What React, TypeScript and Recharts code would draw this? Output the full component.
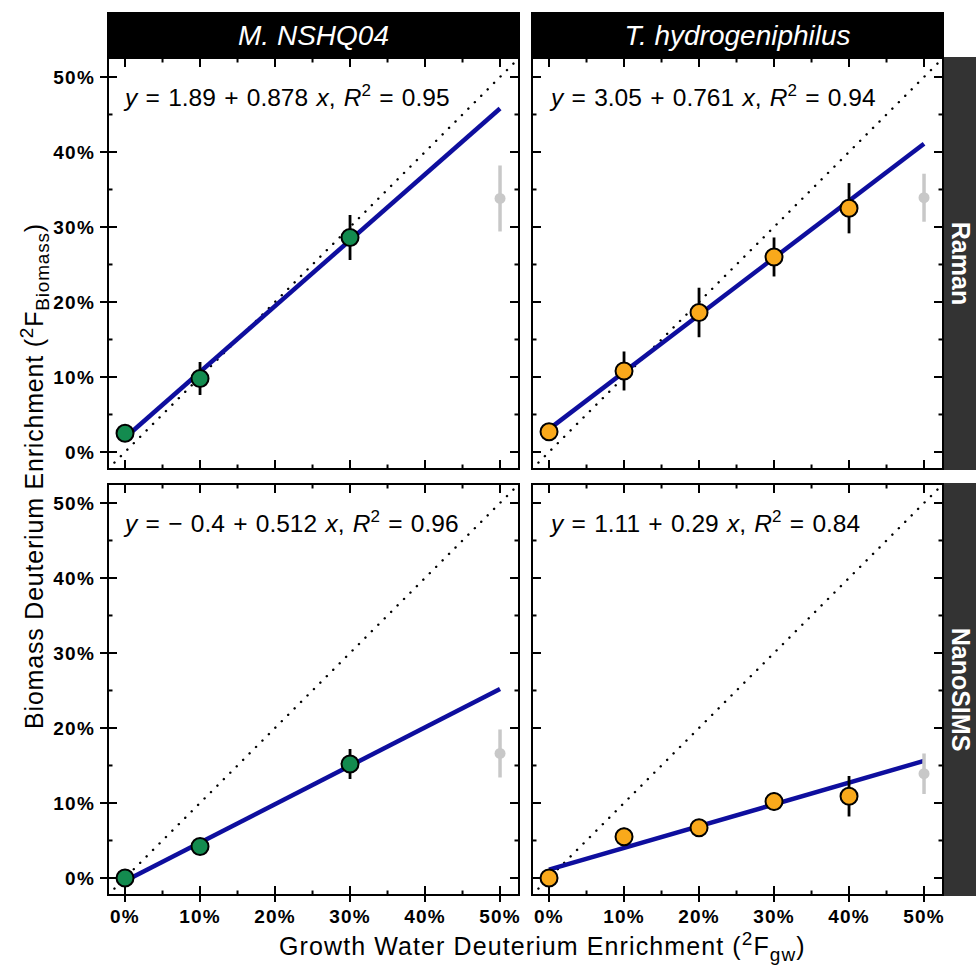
import React from 'react'
import { ComposedChart, Scatter, Line, XAxis, YAxis, ErrorBar } from 'recharts'

// shared axis range (both axes, in % enrichment)
const domainLo = -2.27
const domainHi = 52.53
const tickValues = [0, 5, 10, 15, 20, 25, 30, 35, 40, 45, 50]
const fitX = [0, 50]
const refX = 50

// M. NSHQ04 / Raman
const mRamanX = [0, 10, 30]
const mRamanY = [2.5, 9.8, 28.6]
const mRamanErr = [0.4, 2.2, 3.0]
const mRamanRefY = 33.8
const mRamanRefErr = 4.4
const mRamanFit = [1.89, 45.79]

// T. hydrogeniphilus / Raman
const tRamanX = [0, 10, 20, 30, 40]
const tRamanY = [2.7, 10.8, 18.6, 26.0, 32.5]
const tRamanErr = [0.4, 2.6, 3.3, 2.6, 3.35]
const tRamanRefY = 33.9
const tRamanRefErr = 3.2
const tRamanFit = [3.05, 41.1]

// M. NSHQ04 / NanoSIMS
const mSimsX = [0, 10, 30]
const mSimsY = [0.0, 4.2, 15.2]
const mSimsErr = [0.3, 0.6, 2.0]
const mSimsRefY = 16.6
const mSimsRefErr = 3.2
const mSimsFit = [-0.4, 25.2]

// T. hydrogeniphilus / NanoSIMS
const tSimsX = [0, 10, 20, 30, 40]
const tSimsY = [0.0, 5.5, 6.7, 10.2, 10.9]
const tSimsErr = [0.4, 1.2, 0.5, 1.2, 2.7]
const tSimsRefY = 13.9
const tSimsRefErr = 2.7
const tSimsFit = [1.11, 15.61]

const eqIntercept = ['1.89', '3.05', '\u2212 0.4', '1.11']
const eqSlope = ['0.878', '0.761', '0.512', '0.29']
const eqR2 = ['0.95', '0.94', '0.96', '0.84']

const speciesLabels = ['M. NSHQ04', 'T. hydrogeniphilus']
const methodLabels = ['Raman', 'NanoSIMS']

const FONT = '"Liberation Sans", Arial, Helvetica, sans-serif'
const GREEN = '#138B4F'
const ORANGE = '#F9A91B'
const NAVY = '#0E0E9E'
const GREY = '#C8C8C8'

// layout
const PW = 411
const PH = 411
const colLeft = [108, 532]
const rowTop = [58, 484]
const L = 60
const R = 6
const T = 6
const B = 40

const makeXTick = (outer: boolean) => (p: any) => {
  const x = p.x
  const v = p.payload.value
  const major = v % 10 === 0
  const yb = T + PH
  const len = major ? 9 : 4.5
  return (
    <g>
      <line x1={x} x2={x} y1={yb} y2={yb - len} stroke="#000" strokeWidth={2} />
      <line x1={x} x2={x} y1={T} y2={T + len} stroke="#000" strokeWidth={2} />
      {outer && major && <line x1={x} x2={x} y1={yb} y2={yb + 7} stroke="#000" strokeWidth={2} />}
      {outer && major && (
        <text x={x} y={yb + 28} textAnchor="middle" fontFamily={FONT} fontWeight="bold" fontSize={19} letterSpacing={1.2} fill="#000">
          {v}%
        </text>
      )}
    </g>
  )
}

const makeYTick = (outer: boolean) => (p: any) => {
  const y = p.y
  const v = p.payload.value
  const major = v % 10 === 0
  const xl = L
  const xr = L + PW
  const len = major ? 9 : 4.5
  return (
    <g>
      <line x1={xl} x2={xl + len} y1={y} y2={y} stroke="#000" strokeWidth={2} />
      <line x1={xr} x2={xr - len} y1={y} y2={y} stroke="#000" strokeWidth={2} />
      {outer && major && <line x1={xl} x2={xl - 8} y1={y} y2={y} stroke="#000" strokeWidth={2} />}
      {outer && major && (
        <text x={xl - 13} y={y + 7} textAnchor="end" fontFamily={FONT} fontWeight="bold" fontSize={19} letterSpacing={1.2} fill="#000">
          {v}%
        </text>
      )}
    </g>
  )
}

interface PanelProps {
  xs: number[]
  ys: number[]
  errs: number[]
  refY: number
  refErr: number
  fit: number[]
  color: string
  col: number
  row: number
}

const Panel = ({ xs, ys, errs, refY, refErr, fit, color, col, row }: PanelProps) => {
  const pts = xs.map((x, i) => ({ x, y: ys[i], e: errs[i] }))
  const refPt = [{ x: refX, y: refY, e: refErr }]
  const fitData = fitX.map((x, i) => ({ x, y: fit[i] }))
  const idData = [
    { x: domainLo, y: domainLo },
    { x: domainHi, y: domainHi },
  ]
  return (
    <div style={{ position: 'absolute', left: colLeft[col] - L, top: rowTop[row] - T }}>
      <ComposedChart width={L + PW + R} height={T + PH + B} margin={{ top: T, right: R, left: 0, bottom: 0 }}>
        <XAxis
          type="number"
          dataKey="x"
          domain={[domainLo, domainHi]}
          allowDataOverflow
          ticks={tickValues}
          interval={0}
          tickLine={false}
          axisLine={false}
          tickSize={0}
          tickMargin={0}
          height={B}
          tick={makeXTick(row === 1)}
        />
        <YAxis
          type="number"
          dataKey="y"
          domain={[domainLo, domainHi]}
          allowDataOverflow
          ticks={tickValues}
          interval={0}
          tickLine={false}
          axisLine={false}
          tickSize={0}
          tickMargin={0}
          width={L}
          tick={makeYTick(col === 0)}
        />
        <Line data={idData} dataKey="y" stroke="#000" strokeWidth={2.4} strokeDasharray="0.1 9" strokeLinecap="round" dot={false} isAnimationActive={false} />
        <Line data={fitData} dataKey="y" stroke={NAVY} strokeWidth={4.5} dot={false} isAnimationActive={false} />
        <Scatter
          data={refPt}
          dataKey="y"
          isAnimationActive={false}
          shape={(p: any) => <circle cx={p.cx} cy={p.cy} r={5.5} fill={GREY} />}
        >
          <ErrorBar dataKey="e" direction="y" width={0} stroke={GREY} strokeWidth={3.5} />
        </Scatter>
        <Scatter
          data={pts}
          dataKey="y"
          isAnimationActive={false}
          shape={(p: any) => <circle cx={p.cx} cy={p.cy} r={8.5} fill={color} stroke="#000" strokeWidth={2} />}
        >
          <ErrorBar dataKey="e" direction="y" width={0} stroke="#000" strokeWidth={2.8} />
        </Scatter>
      </ComposedChart>
    </div>
  )
}

const Equation = ({ i, x, y }: { i: number; x: number; y: number }) => (
  <text x={x} y={y} fontFamily={FONT} fontSize={24.5} fill="#000" style={{ whiteSpace: 'pre', wordSpacing: 1.5 }}>
    <tspan fontStyle="italic">y</tspan>
    <tspan>{` = ${eqIntercept[i]} + ${eqSlope[i]} `}</tspan>
    <tspan fontStyle="italic">x</tspan>
    <tspan>{', '}</tspan>
    <tspan fontStyle="italic">R</tspan>
    <tspan dy={-10} fontSize={17}>2</tspan>
    <tspan dy={10}>{` = ${eqR2[i]}`}</tspan>
  </text>
)

const Overlay = () => (
  <svg width={976} height={965} style={{ position: 'absolute', left: 0, top: 0, pointerEvents: 'none' }}>
    {colLeft.map((cx, c) => (
      <g key={`strip-${c}`}>
        <rect x={cx - 1} y={12} width={PW + 2} height={46} fill="#000" />
        <text x={cx + PW / 2} y={45} textAnchor="middle" fontFamily={FONT} fontStyle="italic" fontSize={28} fill="#fff">
          {speciesLabels[c]}
        </text>
      </g>
    ))}
    {rowTop.map((ry, r) => (
      <g key={`side-${r}`}>
        <rect x={943} y={ry - 1} width={40} height={PH + 2} fill="#333333" />
        <text
          transform={`translate(961, ${ry + PH / 2}) rotate(90)`}
          textAnchor="middle"
          dominantBaseline="central"
          fontFamily={FONT}
          fontWeight="bold"
          fontSize={25}
          fill="#fff"
        >
          {methodLabels[r]}
        </text>
      </g>
    ))}
    {rowTop.map((ry) =>
      colLeft.map((cx) => (
        <rect key={`f-${cx}-${ry}`} x={cx} y={ry} width={PW} height={PH} fill="none" stroke="#000" strokeWidth={2} />
      ))
    )}
    <Equation i={0} x={125} y={106} />
    <Equation i={1} x={551} y={106} />
    <Equation i={2} x={125} y={532} />
    <Equation i={3} x={551} y={532} />
    <text x={279} y={955} fontFamily={FONT} fontSize={25} letterSpacing={1.1} fill="#000" style={{ whiteSpace: 'pre' }}>
      {'Growth Water Deuterium Enrichment ('}
      <tspan dy={-10} fontSize={19}>2</tspan>
      <tspan dy={10}>F</tspan>
      <tspan dy={6} fontSize={19}>gw</tspan>
      <tspan dy={-6}>)</tspan>
    </text>
    <text
      transform="translate(43, 476) rotate(-90)"
      textAnchor="middle"
      fontFamily={FONT}
      fontSize={25}
      letterSpacing={0.8}
      fill="#000"
      style={{ whiteSpace: 'pre' }}
    >
      {'Biomass Deuterium Enrichment ('}
      <tspan dy={-10} fontSize={19}>2</tspan>
      <tspan dy={10}>F</tspan>
      <tspan dy={6} fontSize={19}>Biomass</tspan>
      <tspan dy={-6}>)</tspan>
    </text>
  </svg>
)

export default function App() {
  return (
    <div style={{ position: 'absolute', left: 0, top: 0, width: 976, height: 965, overflow: 'hidden', background: '#fff' }}>
      <Panel xs={mRamanX} ys={mRamanY} errs={mRamanErr} refY={mRamanRefY} refErr={mRamanRefErr} fit={mRamanFit} color={GREEN} col={0} row={0} />
      <Panel xs={tRamanX} ys={tRamanY} errs={tRamanErr} refY={tRamanRefY} refErr={tRamanRefErr} fit={tRamanFit} color={ORANGE} col={1} row={0} />
      <Panel xs={mSimsX} ys={mSimsY} errs={mSimsErr} refY={mSimsRefY} refErr={mSimsRefErr} fit={mSimsFit} color={GREEN} col={0} row={1} />
      <Panel xs={tSimsX} ys={tSimsY} errs={tSimsErr} refY={tSimsRefY} refErr={tSimsRefErr} fit={tSimsFit} color={ORANGE} col={1} row={1} />
      <Overlay />
    </div>
  )
}
